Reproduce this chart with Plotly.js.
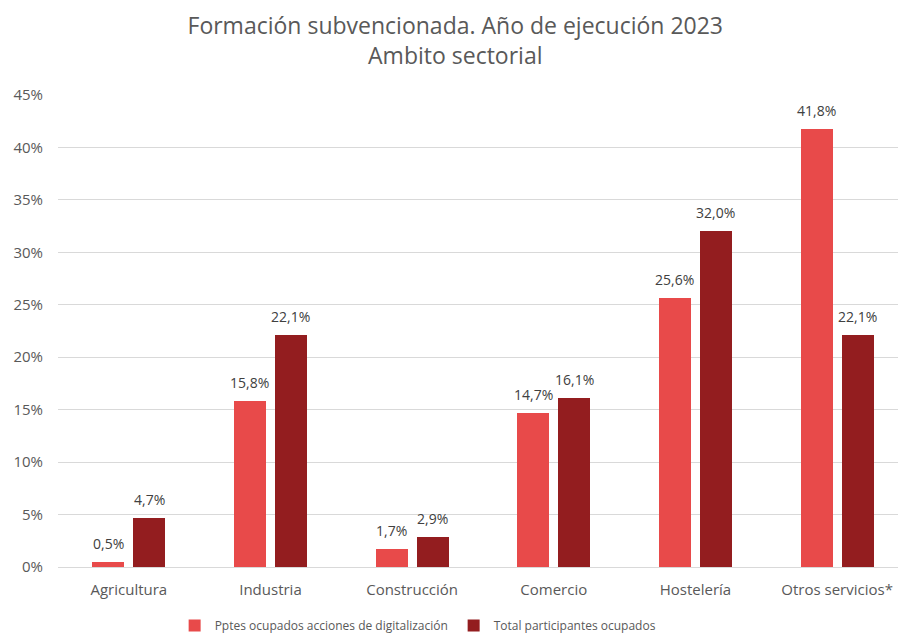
<!DOCTYPE html>
<html>
<head>
<meta charset="utf-8">
<script src="https://cdn.plot.ly/plotly-3.0.1.min.js"></script>
<style>html,body{margin:0;padding:0;background:#fff;}#chart{width:898px;height:635px;}</style>
</head>
<body>
<div id="chart"></div>
<script>
const categories = ["Agricultura", "Industria", "Construcción", "Comercio", "Hostelería", "Otros servicios*"];
const digitalizacion = [0.5, 15.8, 1.7, 14.7, 25.6, 41.8];
const totalOcupados = [4.7, 22.1, 2.9, 16.1, 32.0, 22.1];
const seriesNames = ["Pptes ocupados acciones de digitalización", "Total participantes ocupados"];
const yTicks = [0, 5, 10, 15, 20, 25, 30, 35, 40, 45];

const fmt = v => v.toFixed(1).replace(".", ",") + "%";
const FONT = "Open Sans, sans-serif";

const traces = [
  {
    type: "bar", name: seriesNames[0], x: categories, y: digitalizacion,
    marker: {color: "#E84A4A"}, width: 0.226, offset: -0.258, hoverinfo: "none"
  },
  {
    type: "bar", name: seriesNames[1], x: categories, y: totalOcupados,
    marker: {color: "#931D1F"}, width: 0.226, offset: 0.032, hoverinfo: "none"
  }
];

function labels(vals, xshift) {
  return vals.map((v, i) => ({
    x: categories[i], y: v, xref: "x", yref: "y", text: fmt(v),
    showarrow: false, xanchor: "center", yanchor: "bottom",
    xshift: xshift, yshift: 7,
    font: {family: FONT, size: 14, color: "#404040"}
  }));
}

const layout = {
  width: 898, height: 635,
  margin: {l: 58, r: 0, t: 95, b: 68, autoexpand: false},
  paper_bgcolor: "#fff", plot_bgcolor: "#fff",
  font: {family: FONT, color: "#595959", size: 14},
  title: {
    text: "Formación subvencionada. Año de ejecución 2023<br>Ambito sectorial",
    font: {family: FONT, size: 23, color: "#595959"},
    x: 0.507, xanchor: "center", y: 0.947, yanchor: "top"
  },
  barmode: "group",
  xaxis: {
    type: "category", range: [-0.5, 5.43], showgrid: false, zeroline: false,
    showline: false, ticks: "", ticklabelstandoff: 12,
    tickfont: {family: FONT, size: 15, color: "#595959"},
    fixedrange: true
  },
  yaxis: {
    range: [0, 45], tickvals: yTicks, ticktext: yTicks.map(v => v + "%"),
    showgrid: true, gridcolor: "#D9D9D9", gridwidth: 1, zeroline: true,
    zerolinecolor: "#D9D9D9", zerolinewidth: 1, showline: false, ticks: "",
    ticklabelstandoff: 14,
    tickfont: {family: FONT, size: 15, color: "#595959"}, fixedrange: true
  },
  annotations: labels(digitalizacion, -20.5).concat(labels(totalOcupados, 20.5)),
  showlegend: true,
  legend: {
    orientation: "h", x: 0.471, xanchor: "center", y: -0.124, yanchor: "middle",
    font: {family: FONT, size: 12, color: "#595959"}, itemwidth: 30,
    entrywidth: 234, tracegroupgap: 0
  },
  bargap: 0, bargroupgap: 0
};

Plotly.newPlot("chart", traces, layout, {displayModeBar: false, staticPlot: true});
</script>
</body>
</html>
